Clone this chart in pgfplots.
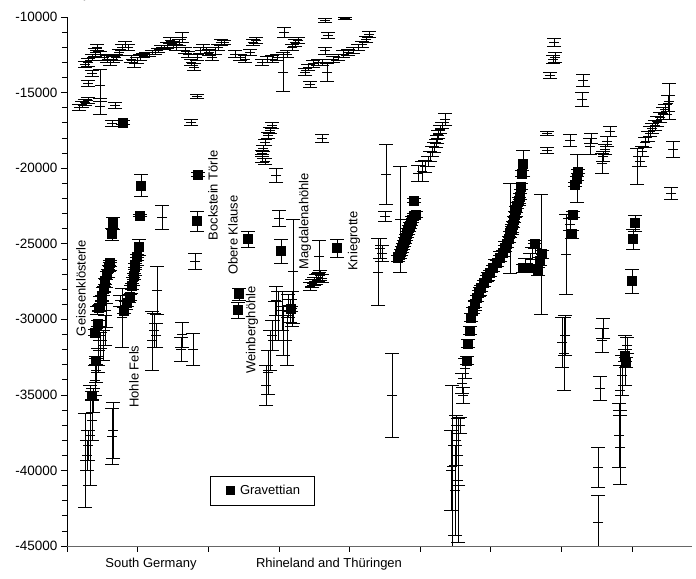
\documentclass[border=0pt]{standalone}
\usepackage{fontspec}
\setmainfont{Liberation Sans}
\usepackage{pgfplots}
\usepackage{pgfplotstable}
\pgfplotsset{compat=1.18}

% non-Gravettian dates: x position, age (years), one-sigma error
\pgfplotstableread{
x y e
79 -16000 200
82 -15800 200
85 -15670 200
88 -15540 200
88 -14420 200
92 -13760 200
100 -14550 1055
100 -15930 527
115 -15870 200
112 -17050 200
85 -13160 200
88 -12970 264
92 -12700 200
95 -12310 264
97 -12040 200
100 -12500 200
104 -12640 200
107 -12770 200
110 -12970 200
113 -12830 200
116 -12640 200
119 -12310 200
122 -12040 200
125 -11780 200
128 -11980 200
131 -12770 200
134 -13100 200
137 -12900 200
140 -12700 200
143 -12570 132
146 -12500 132
149 -12440 132
152 -12370 132
155 -12310 132
158 -12180 132
161 -12040 132
164 -11980 132
167 -11850 200
170 -11520 200
173 -11780 200
176 -11980 200
179 -11650 200
182 -11320 330
185 -12180 200
188 -12500 200
191 -13030 200
194 -13300 200
197 -12700 200
200 -12180 200
203 -12040 200
206 -12180 200
209 -12370 200
212 -12700 200
215 -12240 200
218 -11980 200
221 -11650 200
224 -11710 132
197 -15270 132
191 -16990 200
235 -12440 200
240 -12640 200
245 -12770 200
250 -12310 200
253 -11650 200
256 -11520 200
262 -13030 200
267 -12830 200
272 -12770 200
277 -12640 200
284 -10990 330
283 -13630 1318
287 -12440 200
292 -12040 200
295 -11710 200
298 -11520 200
325 -10200 132
345 -10070 66
328 -11190 200
325 -12240 264
305 -13630 200
308 -13360 200
310 -14480 200
313 -13100 200
318 -12970 200
322 -12970 200
327 -13690 593
333 -12830 200
338 -12640 200
343 -12440 200
348 -12310 200
353 -12180 200
358 -11980 200
362 -11780 200
366 -11450 200
369 -11120 200
272 -17180 200
270 -17510 200
268 -17840 200
265 -18300 200
263 -18700 200
262 -19030 200
262 -19360 264
265 -19560 200
276 -20480 461
322 -18040 264
162 -23250 791
195 -26150 527
157 -28060 1582
154 -30760 1120
156 -31090 791
152 -31420 1977
182 -31030 857
181 -32010 791
193 -32010 1055
85 -39330 3098
90 -37680 3296
88 -38340 989
87 -39000 989
92 -36690 1318
93 -35380 791
95 -34060 989
96 -33400 791
98 -32740 791
100 -32080 659
100 -31420 527
104 -28780 659
106 -29770 791
105 -30760 989
103 -31750 989
98 -32080 989
97 -29440 264
100 -28780 264
103 -28130 264
106 -27600 264
108 -26940 264
110 -26480 264
113 -37350 1845
112 -37750 1845
122 -29900 1977
120 -28780 395
126 -29110 264
129 -28590 264
131 -27990 264
133 -27470 264
135 -26810 264
137 -26150 264
279 -23310 527
266 -34390 1318
268 -33530 1450
270 -32080 1318
272 -31090 989
275 -30100 1318
278 -29770 1648
276 -28780 989
282 -29440 1318
288 -29110 791
290 -29440 791
292 -29310 1186
283 -30760 1648
287 -31420 1648
293 -26810 3427
310 -27800 264
312 -27600 264
314 -27470 264
316 -27330 330
318 -27200 264
320 -27070 330
322 -27270 264
319 -25820 1055
386 -20410 1977
385 -23180 330
380 -25290 659
382 -25620 527
378 -26870 2241
392 -35050 2768
400 -23380 3493
418 -20350 527
422 -20220 659
425 -19890 395
428 -19560 330
430 -19230 330
432 -18900 330
434 -18630 330
436 -18370 264
437 -18110 264
438 -17780 264
440 -17450 264
442 -17180 200
445 -16790 395
452 -39730 5339
465 -33270 659
462 -34260 659
458 -40650 4086
451 -39990 2636
455 -41310 2966
456 -38010 1648
458 -39000 1977
460 -37010 527
463 -35050 527
475 -29110 330
480 -28130 264
488 -27140 264
495 -26280 264
500 -25820 330
505 -25160 330
512 -24040 330
516 -22850 330
519 -22190 264
510 -23970 2966
525 -26280 330
530 -26030 395
532 -25620 395
535 -25290 330
541 -25690 3955
547 -17710 132
547 -18830 198
554 -11650 264
555 -12640 330
553 -12830 264
550 -13890 198
583 -14220 395
582 -15470 461
570 -18170 395
591 -18040 330
590 -18570 527
610 -17580 330
607 -18240 330
605 -18770 330
603 -19230 330
602 -19690 659
577 -20680 1582
566 -25690 2636
570 -23710 395
637 -19890 1186
640 -19560 330
642 -18900 330
645 -18300 330
648 -17910 330
650 -17580 330
652 -17380 330
655 -17180 330
657 -16920 330
660 -16660 330
663 -16390 395
665 -16130 330
668 -15730 527
669 -15600 1186
673 -18770 527
671 -21670 395
564 -32280 2439
565 -31090 1318
562 -31550 1648
603 -30630 659
602 -31420 791
600 -34590 791
598 -39790 1318
598 -43420 1780
625 -32740 1648
622 -33730 1318
620 -34720 1648
619 -37680 2109
620 -38470 2439
627 -31750 527
}\tabA

% Gravettian dates
\pgfplotstableread{
x y e
123 -16990 132
95 -30890 198
98 -30300 198
99 -29250 198
102 -28590 198
104 -27990 198
105 -27470 198
107 -27000 198
109 -26610 198
110 -26280 198
96 -32740 264
92 -35050 264
113 -23640 395
112 -24370 395
124 -29440 198
127 -28920 198
130 -28520 198
132 -27800 198
134 -27140 198
135 -26480 198
137 -25880 198
139 -25230 527
140 -23120 66
141 -21140 725
198 -20410 132
197 -23510 659
248 -24700 527
239 -28320 395
238 -29380 527
281 -25490 791
291 -29310 198
337 -25290 593
414 -22130 132
398 -25950 198
400 -25750 198
401 -25560 198
402 -25360 198
403 -25160 198
404 -24960 198
405 -24760 198
406 -24570 198
407 -24370 198
408 -24170 198
409 -23970 198
410 -23780 198
411 -23580 198
412 -23380 198
414 -23180 198
416 -23050 198
467 -32740 264
468 -31620 264
470 -30760 264
471 -29900 264
473 -29440 198
475 -28980 198
477 -28590 198
479 -28260 198
481 -27930 198
484 -27600 198
487 -27270 198
490 -26940 198
493 -26610 198
497 -26280 198
500 -25950 198
503 -25620 198
505 -25290 198
507 -25030 198
509 -24700 198
510 -24370 198
512 -24040 198
513 -23710 198
514 -23380 198
515 -23050 198
516 -22720 198
517 -22460 198
519 -22130 198
520 -21860 198
521 -21200 198
522 -20350 198
523 -19690 857
535 -25030 264
542 -25690 264
528 -26610 264
538 -26810 264
523 -26610 264
540 -26150 264
578 -20220 132
577 -20680 132
575 -21070 132
573 -23050 198
572 -24370 264
635 -23640 527
633 -24700 659
632 -27470 791
625 -32410 395
626 -32870 330
}\tabG

\begin{document}
\begin{tikzpicture}
\begin{axis}[
  name=ax,
  scale only axis, width=625pt, height=529pt,
  xmin=67, xmax=692, ymin=-45000, ymax=-10000,
  axis x line*=bottom, axis y line*=left,
  axis line style={-, line width=0.6pt, black},
  x axis line style={black!60},
  xtick={67,137.6,208.2,278.8,349.4,420,490.6,561.2,631.8},
  xticklabels={},
  ytick={-45000,-40000,-35000,-30000,-25000,-20000,-15000,-10000},
  yticklabels={-45000,-40000,-35000,-30000,-25000,-20000,-15000,-10000},
  minor y tick num=4,
  tick align=outside,
  major tick length=6pt, minor tick length=5pt,
  tick style={black, line width=0.6pt},
  yticklabel style={font=\fontsize{13.5}{14}\selectfont},
  clip mode=individual,
  legend style={at={(0.312,0.104)}, anchor=center, draw=black, line width=0.6pt,
    font=\fontsize{13}{15}\selectfont,
    nodes={inner ysep=7pt}},
  legend image code/.code={
    \path[draw=none] (-4pt,0pt) -- (21pt,0pt);
    \fill[black, draw=none] (8.5pt,-4.5pt) rectangle (17.5pt,4.5pt);
  },
  legend cell align=left,
]
\addplot[only marks, mark=-, mark size=5pt, black, line width=0.7pt, forget plot,
  error bars/.cd, y dir=both, y explicit, error mark=-,
  error mark options={rotate=90, mark size=7pt, line width=0.7pt, black},
  error bar style={line width=0.7pt, black}]
  table[x=x, y=y, y error=e] {\tabA};
\addplot[only marks, mark=square*, mark size=4.5pt, black,
  error bars/.cd, y dir=both, y explicit, error mark=-,
  error mark options={rotate=90, mark size=7pt, line width=0.7pt, black},
  error bar style={line width=0.7pt, black}]
  table[x=x, y=y, y error=e] {\tabG};
\addlegendentry{Gravettian\rule{9pt}{0pt}}

\node[rotate=90, font=\fontsize{13}{15}\selectfont] at (axis cs:81,-27930) {Geissenklösterle};
\node[rotate=90, font=\fontsize{13}{15}\selectfont] at (axis cs:134,-33790) {Hohle Fels};
\node[rotate=90, font=\fontsize{13}{15}\selectfont] at (axis cs:213,-21800) {Bockstein Törle};
\node[rotate=90, font=\fontsize{13}{15}\selectfont] at (axis cs:233,-24430) {Obere Klause};
\node[rotate=90, font=\fontsize{13}{15}\selectfont] at (axis cs:252,-30700) {Weinberghöhle};
\node[rotate=90, font=\fontsize{13}{15}\selectfont] at (axis cs:305,-23510) {Magdalenahöhle};
\node[rotate=90, font=\fontsize{13}{15}\selectfont] at (axis cs:354,-24830) {Kniegrotte};
\node[font=\fontsize{13}{15}\selectfont, yshift=-18pt] at (axis cs:151,-45000) {South Germany};
\node[font=\fontsize{13}{15}\selectfont, yshift=-18pt] at (axis cs:329,-45000) {Rhineland and Thüringen};
\end{axis}
\pgfresetboundingbox
\path[use as bounding box] ([shift={(-67pt,-33pt)}]ax.south west) rectangle ([shift={(4pt,17pt)}]ax.north east);
\end{tikzpicture}
\end{document}
